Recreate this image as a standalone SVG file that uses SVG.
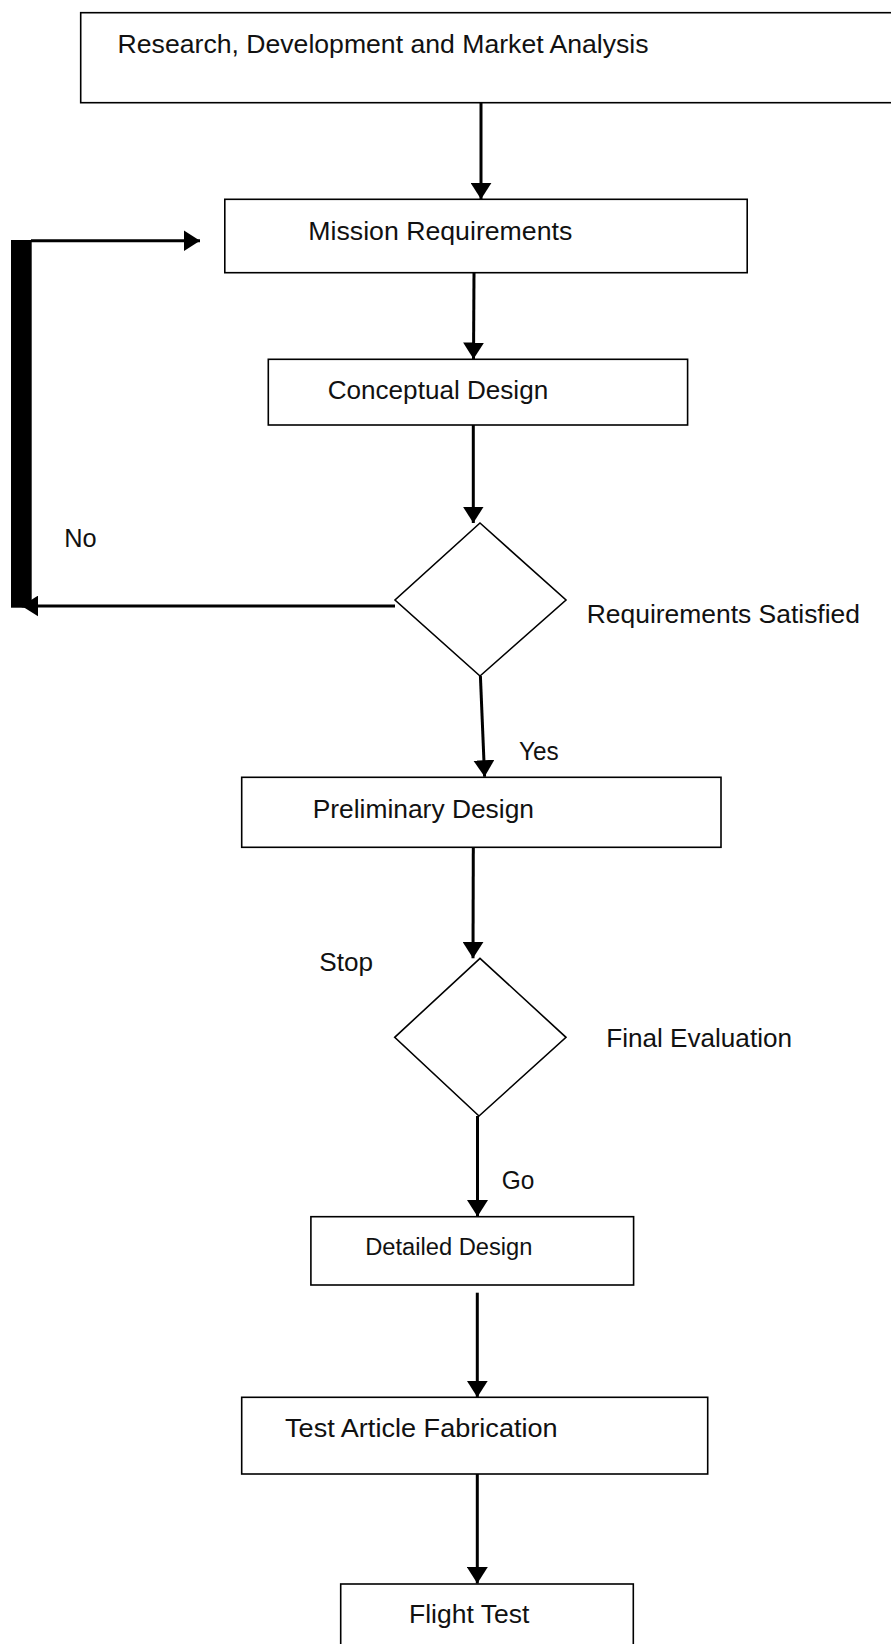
<svg xmlns="http://www.w3.org/2000/svg" width="891" height="1644" viewBox="0 0 891 1644">
<style>
.box{fill:#fff;stroke:#000;stroke-width:1.6}
.dia{fill:#fff;stroke:#000;stroke-width:1.6}
.con{fill:none;stroke:#000;stroke-width:3;marker-end:url(#ah)}
.t{font-family:"Liberation Sans",Arial,sans-serif;font-size:25px;fill:#111}
.ts{font-family:"Liberation Sans",Arial,sans-serif;font-size:23px;fill:#111}
</style>
<defs>
<marker id="ah" markerUnits="userSpaceOnUse" markerWidth="17" markerHeight="21" refX="16.5" refY="10.5" orient="auto" viewBox="0 0 17 21">
<path d="M0,0 L16.5,10.5 L0,21 Z" fill="#000"/>
</marker>
</defs>
<rect width="891" height="1644" fill="#fff"/>
<g id="connectors">
<line class="con" x1="481" y1="102.7" x2="481" y2="199.3"/>
<line class="con" x1="474" y1="272.7" x2="473.5" y2="359"/>
<line class="con" x1="473.3" y1="425" x2="473.3" y2="523"/>
<line class="con" x1="395" y1="606" x2="21.7" y2="606"/>
<rect x="11" y="240" width="20.7" height="367.7" fill="#000"/>
<line class="con" x1="31" y1="240.7" x2="200" y2="240.7"/>
<line class="con" x1="480.4" y1="676" x2="484.6" y2="776.7"/>
<line class="con" x1="473.3" y1="847.3" x2="473" y2="958.3"/>
<line class="con" x1="477.5" y1="1116" x2="477.5" y2="1216.5"/>
<line class="con" x1="477.3" y1="1292.7" x2="477.3" y2="1397.3"/>
<line class="con" x1="477.3" y1="1471.7" x2="477.3" y2="1583.5"/>
</g>
<g id="n-research">
<rect class="box" x="80.7" y="12.7" width="830" height="90"/>
<text class="t" x="117.6" y="53.3" textLength="531" lengthAdjust="spacingAndGlyphs">Research, Development and Market Analysis</text>
</g>
<g id="n-mission">
<rect class="box" x="224.8" y="199.3" width="522.4" height="73.4"/>
<text class="t" x="308.3" y="240" textLength="264" lengthAdjust="spacingAndGlyphs">Mission Requirements</text>
</g>
<g id="n-conceptual">
<rect class="box" x="268.3" y="359.3" width="419.3" height="65.7"/>
<text class="t" x="327.7" y="399.3" textLength="220.5" lengthAdjust="spacingAndGlyphs">Conceptual Design</text>
</g>
<g id="n-req-satisfied">
<polygon class="dia" points="480,523 566,600 480,676 395,600"/>
<text class="t" x="586.7" y="623.3" textLength="273.3" lengthAdjust="spacingAndGlyphs">Requirements Satisfied</text>
</g>
<g id="lbl-no"><text class="t" x="64.3" y="546.7" textLength="32.4" lengthAdjust="spacingAndGlyphs">No</text></g>
<g id="lbl-yes"><text class="t" x="519" y="760" textLength="39.7" lengthAdjust="spacingAndGlyphs">Yes</text></g>
<g id="n-preliminary">
<rect class="box" x="241.7" y="777.3" width="479.3" height="70"/>
<text class="t" x="312.7" y="818.3" textLength="221.3" lengthAdjust="spacingAndGlyphs">Preliminary Design</text>
</g>
<g id="lbl-stop"><text class="t" x="319.3" y="971" textLength="53.7" lengthAdjust="spacingAndGlyphs">Stop</text></g>
<g id="n-final-eval">
<polygon class="dia" points="480,958.3 566,1037.3 479,1116 394.7,1037.3"/>
<text class="t" x="606.2" y="1046.7" textLength="185.8" lengthAdjust="spacingAndGlyphs">Final Evaluation</text>
</g>
<g id="lbl-go"><text class="t" x="501.7" y="1189.3" textLength="32.6" lengthAdjust="spacingAndGlyphs">Go</text></g>
<g id="n-detailed">
<rect class="box" x="310.9" y="1216.7" width="322.7" height="68.3"/>
<text class="ts" x="365.2" y="1255" textLength="167.3" lengthAdjust="spacingAndGlyphs">Detailed Design</text>
</g>
<g id="n-fabrication">
<rect class="box" x="241.7" y="1397.3" width="466" height="76.7"/>
<text class="t" x="285" y="1437.3" textLength="272.7" lengthAdjust="spacingAndGlyphs">Test Article Fabrication</text>
</g>
<g id="n-flight">
<rect class="box" x="340.7" y="1584" width="292.6" height="80"/>
<text class="t" x="409" y="1623.3" textLength="120.3" lengthAdjust="spacingAndGlyphs">Flight Test</text>
</g>
</svg>
